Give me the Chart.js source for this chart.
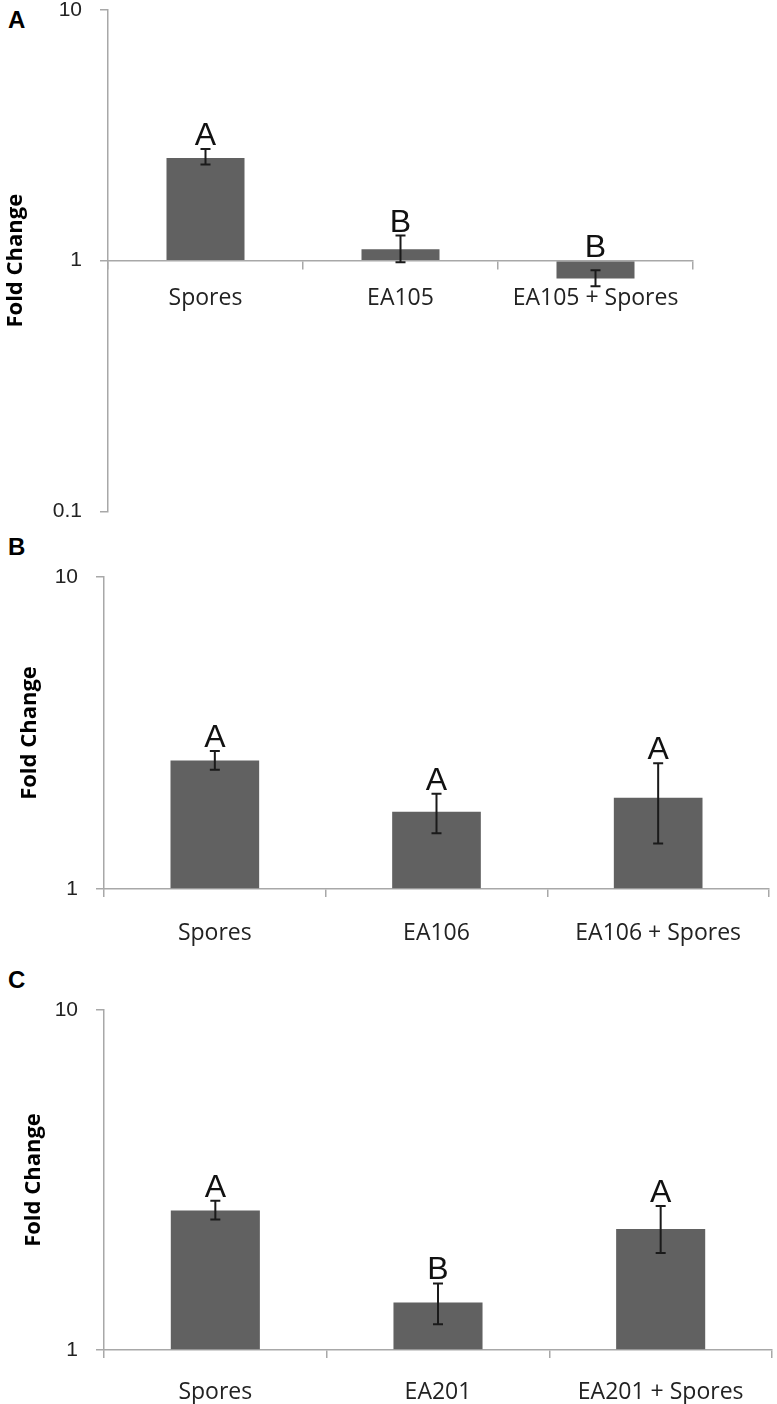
<!DOCTYPE html>
<html>
<head>
<meta charset="utf-8">
<script src="https://cdn.jsdelivr.net/npm/chart.js@4.4.1/dist/chart.umd.min.js"></script>
<style>
  body { margin: 0; width: 777px; height: 1404px; position: relative; overflow: hidden; background: #fff; }
  canvas { position: absolute; left: 0; }
  .tag { position: absolute; left: 8px; font: bold 24px "Liberation Sans", Arial, sans-serif; line-height: 24px; color: #000; }
</style>
</head>
<body>
<div class="tag" style="top: 8px">A</div>
<div class="tag" style="top: 535px">B</div>
<div class="tag" style="top: 968px">C</div>
<canvas id="chartA" width="777" height="572" style="top: -30px"></canvas>
<canvas id="chartB" width="777" height="410" style="top: 540px"></canvas>
<canvas id="chartC" width="777" height="429" style="top: 975px"></canvas>
<script>
// panel A
const labelsA = ["Spores", "EA105", "EA105 + Spores"];
const meanA = [2.57, 1.11, 0.85];
const errHiA = [2.79, 1.26, 0.915];
const errLoA = [2.42, 0.985, 0.79];
const lettersA = ["A", "B", "B"];
const yTicksA = [0.1, 1, 10];

// panel B
const labelsB = ["Spores", "EA106", "EA106 + Spores"];
const meanB = [2.58, 1.77, 1.96];
const errHiB = [2.77, 2.02, 2.53];
const errLoB = [2.41, 1.51, 1.4];
const lettersB = ["A", "A", "A"];

// panel C
const labelsC = ["Spores", "EA201", "EA201 + Spores"];
const meanC = [2.57, 1.38, 2.27];
const errHiC = [2.75, 1.57, 2.65];
const errLoC = [2.42, 1.19, 1.93];
const lettersC = ["A", "B", "A"];

const yTicksBC = [1, 10];

const AXIS = "#a8a8a8";

// error bars + significance letters, drawn from the y scale
const errorBars = {
  id: "errorBars",
  afterDatasetsDraw(chart) {
    const { ctx } = chart;
    const y = chart.scales.y;
    const ds = chart.data.datasets[0];
    const meta = chart.getDatasetMeta(0);
    ctx.save();
    ctx.strokeStyle = "#1a1a1a";
    ctx.lineWidth = 2;
    ctx.fillStyle = "#111";
    ctx.font = '32px "Liberation Sans", Arial, sans-serif';
    ctx.textAlign = "center";
    ctx.textBaseline = "alphabetic";
    meta.data.forEach((bar, i) => {
      const top = y.getPixelForValue(ds.errHi[i]);
      const bottom = y.getPixelForValue(ds.errLo[i]);
      ctx.beginPath();
      ctx.moveTo(bar.x, top);
      ctx.lineTo(bar.x, bottom);
      ctx.moveTo(bar.x - 5, top);
      ctx.lineTo(bar.x + 5, top);
      ctx.moveTo(bar.x - 5, bottom);
      ctx.lineTo(bar.x + 5, bottom);
      ctx.stroke();
      const ly = Math.min(top, y.getPixelForValue(1)) - 4;
      ctx.fillText(ds.letters[i], bar.x, ly);
    });
    ctx.restore();
  },
};

function drawPanel(id, labels, means, hi, lo, letters, yMin, yTicks, opt) {
  new Chart(document.getElementById(id), {
    type: "bar",
    data: {
      labels,
      datasets: [
        {
          data: means,
          errHi: hi,
          errLo: lo,
          letters,
          base: 1,
          backgroundColor: "#616161",
          barPercentage: 0.4,
          categoryPercentage: 1,
        },
      ],
    },
    options: {
      responsive: false,
      animation: false,
      layout: { padding: { top: opt.top, bottom: opt.bottom, left: 0, right: opt.right } },
      plugins: { legend: { display: false }, tooltip: { enabled: false } },
      scales: {
        x: {
          position: opt.xAt ? { y: opt.xAt } : "bottom",
          grid: { drawOnChartArea: false, tickLength: 8, color: AXIS, lineWidth: 1.5, offset: true },
          border: { color: AXIS, width: 1.5 },
          ticks: {
            color: "#222",
            font: { family: '"Open Sans", sans-serif', size: 23 },
            padding: opt.labelPad,
            maxRotation: 0,
            autoSkip: false,
          },
          afterFit: (s) => { s.height = opt.xHeight; },
        },
        y: {
          type: "logarithmic",
          min: yMin,
          max: 10,
          afterBuildTicks: (s) => { s.ticks = yTicks.map((v) => ({ value: v })); },
          grid: { drawOnChartArea: false, tickLength: 8, color: AXIS, lineWidth: 1.5 },
          border: { color: AXIS, width: 1.5 },
          ticks: {
            color: "#222",
            font: { family: '"Liberation Sans", Arial, sans-serif', size: 21 },
            padding: 18,
            callback: (v) => String(v),
          },
          title: {
            display: true,
            text: "Fold Change",
            color: "#000",
            font: { family: '"Open Sans", sans-serif', size: 22, weight: "bold" },
            padding: { top: opt.titlePad, bottom: 0 },
          },
          afterFit: (s) => { s.width = opt.yWidth; },
        },
      },
    },
    plugins: [errorBars],
  });
}

drawPanel("chartA", labelsA, meanA, errHiA, errLoA, lettersA, 0.1, yTicksA,
  { top: 40, bottom: 20, right: 84, xAt: 1, xHeight: 0, labelPad: 16, yWidth: 108, titlePad: 3 });
drawPanel("chartB", labelsB, meanB, errHiB, errLoB, lettersB, 1, yTicksBC,
  { top: 37, bottom: 0, right: 8, xHeight: 61, labelPad: 23, yWidth: 104, titlePad: 17 });
drawPanel("chartC", labelsC, meanC, errHiC, errLoC, lettersC, 1, yTicksBC,
  { top: 35, bottom: 0, right: 5, xHeight: 54, labelPad: 21, yWidth: 104, titlePad: 21 });
</script>
</body>
</html>
